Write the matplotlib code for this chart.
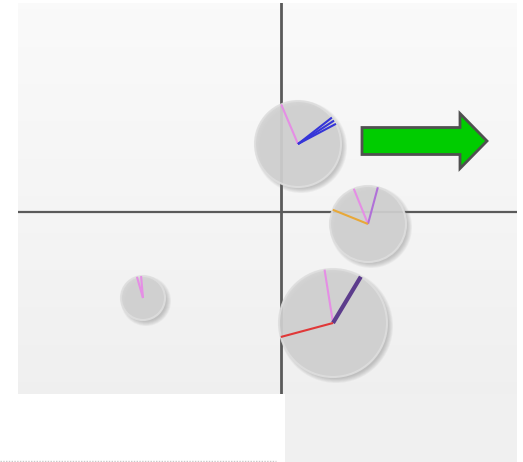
import numpy as np
import matplotlib
matplotlib.use("Agg")
import matplotlib.pyplot as plt
from matplotlib.patches import Circle, FancyArrow, Rectangle, Polygon
from matplotlib.lines import Line2D

# ---- data (units: offset from the crosshair) ----
bubble_x = [17, 87, -138, 52]
bubble_y = [68, -12, -86, -111]
bubble_r = [43, 38, 22, 54]
# hands for each bubble: (angle in degrees, colour, width)
hand_angles = [
    [113, 38, 33, 28],
    [112, 75, 158],
    [106, 95],
    [99, 59, 195],
]
hand_colors = [
    ["#e58ee5", "#3535d8", "#3535d8", "#3535d8"],
    ["#e58ee5", "#b070d8", "#e8a838"],
    ["#e58ee5", "#e58ee5"],
    ["#e58ee5", "#5c3c8c", "#e03838"],
]
hand_widths = [
    [1.5, 1.5, 1.5, 1.5],
    [1.5, 1.5, 1.5],
    [1.5, 1.5],
    [1.5, 3.0, 1.5],
]
xlim = (-263, 236)
ylim = (-182, 209)
arrow_start = (81, 71)   # tail centre
arrow_len = 125

W, H = 523, 462
fig = plt.figure(figsize=(W / 100, H / 100), dpi=100)
fig.patch.set_facecolor("white")

# lower-right extension panel and dotted line (figure coords)
fig.patches.append(Rectangle((285 / W, 0), (517 - 285) / W, (462 - 394) / H,
                             transform=fig.transFigure, facecolor="#f0f0f0",
                             edgecolor="none", zorder=0))
fig.lines.append(Line2D([0, 276 / W], [1.5 / H, 1.5 / H], transform=fig.transFigure,
                        color="#c8c8c8", lw=1, ls=(0, (1, 1))))

ax = fig.add_axes([18 / W, (462 - 394) / H, 499 / W, 391 / H])
ax.set_xlim(*xlim)
ax.set_ylim(*ylim)
ax.set_aspect("equal")
ax.axis("off")

# gradient background
grad = np.linspace(0.981, 0.94, 256).reshape(-1, 1)
ax.imshow(np.dstack([grad, grad, grad]), extent=(xlim[0], xlim[1], ylim[0], ylim[1]),
          aspect="auto", zorder=0, origin="upper")

# crosshair
ax.axvline(0, color="#5a5a5a", lw=2, zorder=1)
ax.axhline(0, color="#5a5a5a", lw=1.6, zorder=1)

for i in range(len(bubble_x)):
    cx, cy, r = bubble_x[i], bubble_y[i], bubble_r[i]
    # soft shadow
    for k in range(6):
        ax.add_patch(Circle((cx + 3, cy - 3), r + 3 - k * 0.9, facecolor="#707070",
                            edgecolor="none", alpha=0.07, zorder=2))
    ax.add_patch(Circle((cx, cy), r, facecolor="#d2d2d2", edgecolor="#dedede",
                        lw=1.5, alpha=0.9, zorder=3))
    for ang, col, w in zip(hand_angles[i], hand_colors[i], hand_widths[i]):
        a = np.deg2rad(ang)
        ax.plot([cx, cx + r * np.cos(a)], [cy, cy + r * np.sin(a)], color=col,
                lw=w, solid_capstyle="butt", zorder=4)

# green arrow
ax.add_patch(FancyArrow(arrow_start[0], arrow_start[1], arrow_len, 0, width=27,
                        head_width=55, head_length=27, length_includes_head=True,
                        facecolor="#00cc00", edgecolor="#505050", lw=2, zorder=5))

fig.savefig("out.png", dpi=100)
